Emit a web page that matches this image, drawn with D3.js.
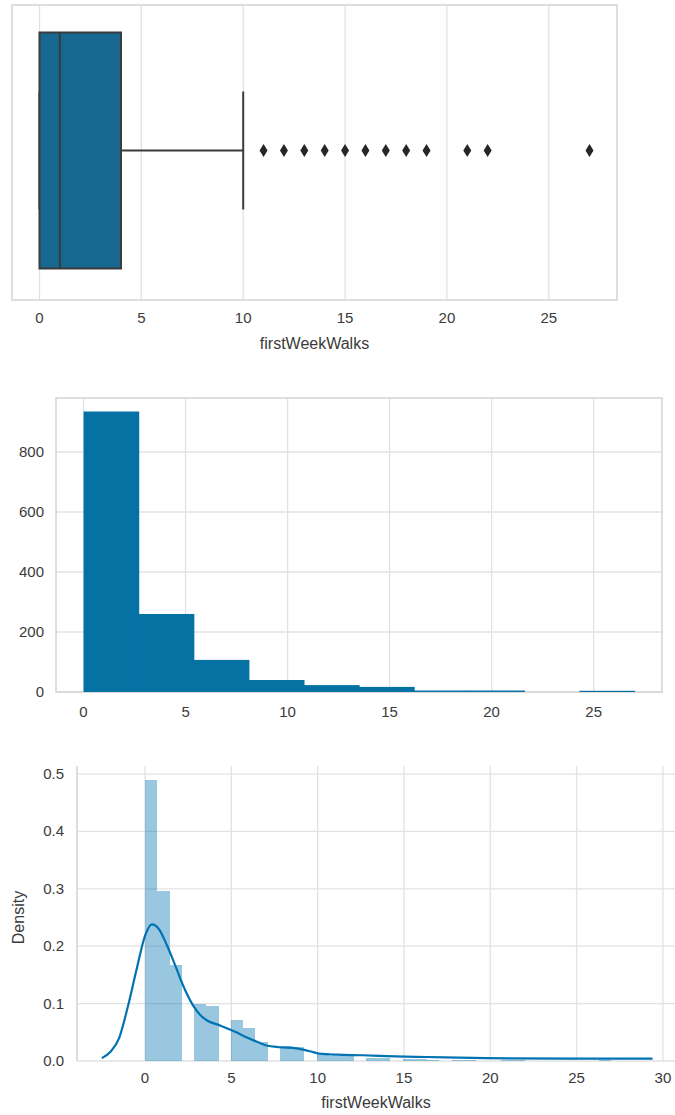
<!DOCTYPE html>
<html>
<head>
<meta charset="utf-8">
<script src="https://cdn.jsdelivr.net/npm/d3@7"></script>
<style>
  body { margin: 0; background: #fff; }
  text { font-family: "Liberation Sans", Arial, sans-serif; fill: #3a3a3a; }
</style>
</head>
<body>
<div id="chart-area"></div>
<script>
// firstWeekWalks, three views

// boxplot
const boxQuartiles = [0, 1, 4];
const boxWhiskers = [0, 10];
const outliers = [11, 12, 13, 14, 15, 16, 17, 18, 19, 21, 22, 27];
const xTicks = [0, 5, 10, 15, 20, 25];

// histogram (10 bins over 0..27)
const histRange = [0, 27];
const histCounts = [935, 260, 107, 40, 23, 17, 5, 5, 0, 4];
const histYTicks = [0, 200, 400, 600, 800];

// distplot (38 bins over 0..27)
const densityBins = [0.49, 0.297, 0.168, 0, 0.100, 0.095, 0, 0.072, 0.057, 0.033,
    0, 0.027, 0.025, 0, 0.014, 0.009, 0.008, 0, 0.005, 0.005,
    0, 0.004, 0.003, 0.002, 0, 0.002, 0.002, 0, 0, 0.001,
    0.001, 0, 0, 0, 0, 0, 0, 0.001];
const kdeX = [-2.5, -2.0, -1.5, -1.0, -0.5, 0.0, 0.39, 0.8, 1.25,
    1.73, 2.2, 2.8, 3.2, 3.57, 4.34, 4.91, 5.3, 5.68, 6.45, 7.03, 7.8, 8.77, 9.54, 10.1, 11.1,
    12.6, 14.5, 16.3, 19.75, 24.8, 29.4];
const kdeY = [0.005, 0.016, 0.04, 0.094, 0.158, 0.218, 0.238, 0.23, 0.203,
    0.168, 0.132, 0.096, 0.08, 0.071, 0.062, 0.055, 0.05, 0.044, 0.034, 0.027, 0.024, 0.022, 0.017, 0.013, 0.011,
    0.010, 0.008, 0.007, 0.005, 0.004, 0.004];
const densTicksX = [0, 5, 10, 15, 20, 25, 30];
const densTicksY = [0, 0.1, 0.2, 0.3, 0.4, 0.5];

const gridColor = "#e2e2e2";
const frameColor = "#d6d6d6";
const blue = "#0173b2";

let svg = d3.select("#chart-area").append("svg")
    .attr("width", 675)
    .attr("height", 1115);

// ---------- boxplot ----------
const bx = d3.scaleLinear().domain([-1.35, 28.35]).range([12, 617]);
const boxTop = 5, boxBottom = 300, boxMid = 150.5;

let g1 = svg.append("g");
g1.selectAll(".vgrid").data(xTicks).enter().append("line")
    .attr("x1", d => bx(d)).attr("x2", d => bx(d))
    .attr("y1", boxTop).attr("y2", boxBottom)
    .attr("stroke", gridColor).attr("stroke-width", 1.3);
g1.append("rect")
    .attr("x", bx.range()[0]).attr("y", boxTop)
    .attr("width", bx.range()[1] - bx.range()[0]).attr("height", boxBottom - boxTop)
    .attr("fill", "none").attr("stroke", frameColor).attr("stroke-width", 1.6);
g1.selectAll(".xt").data(xTicks).enter().append("text")
    .attr("x", d => bx(d)).attr("y", 323)
    .attr("text-anchor", "middle").attr("font-size", 15)
    .text(d => d);
g1.append("text")
    .attr("x", (bx.range()[0] + bx.range()[1]) / 2).attr("y", 349)
    .attr("text-anchor", "middle").attr("font-size", 16)
    .text("firstWeekWalks");

const boxH = (boxBottom - boxTop) * 0.8;
const edge = "#3b3b3b";
// whiskers
g1.append("line")
    .attr("x1", bx(boxQuartiles[2])).attr("x2", bx(boxWhiskers[1]))
    .attr("y1", boxMid).attr("y2", boxMid)
    .attr("stroke", edge).attr("stroke-width", 2);
g1.append("line")
    .attr("x1", bx(boxWhiskers[0])).attr("x2", bx(boxQuartiles[0]))
    .attr("y1", boxMid).attr("y2", boxMid)
    .attr("stroke", edge).attr("stroke-width", 2);
g1.selectAll(".cap").data(boxWhiskers).enter().append("line")
    .attr("x1", d => bx(d)).attr("x2", d => bx(d))
    .attr("y1", boxMid - boxH / 4).attr("y2", boxMid + boxH / 4)
    .attr("stroke", edge).attr("stroke-width", 2);
g1.append("rect")
    .attr("x", bx(boxQuartiles[0])).attr("y", boxMid - boxH / 2)
    .attr("width", bx(boxQuartiles[2]) - bx(boxQuartiles[0])).attr("height", boxH)
    .attr("fill", "#176890").attr("stroke", edge).attr("stroke-width", 2);
g1.append("line")
    .attr("x1", bx(boxQuartiles[1])).attr("x2", bx(boxQuartiles[1]))
    .attr("y1", boxMid - boxH / 2).attr("y2", boxMid + boxH / 2)
    .attr("stroke", edge).attr("stroke-width", 2);
g1.selectAll(".flier").data(outliers).enter().append("path")
    .attr("d", "M0,-6.5L4,0L0,6.5L-4,0Z")
    .attr("transform", d => "translate(" + bx(d) + "," + boxMid + ")")
    .attr("fill", "#262626");

// ---------- histogram ----------
const hx = d3.scaleLinear().domain([-1.35, 28.35]).range([56, 662]);
const hy = d3.scaleLinear().domain([0, 980]).range([692, 398]);
const histW = (histRange[1] - histRange[0]) / histCounts.length;

let g2 = svg.append("g");
g2.selectAll(".vgrid").data(xTicks).enter().append("line")
    .attr("x1", d => hx(d)).attr("x2", d => hx(d))
    .attr("y1", hy.range()[1]).attr("y2", hy.range()[0])
    .attr("stroke", gridColor).attr("stroke-width", 1.3);
g2.selectAll(".hgrid").data(histYTicks).enter().append("line")
    .attr("x1", hx.range()[0]).attr("x2", hx.range()[1])
    .attr("y1", d => hy(d)).attr("y2", d => hy(d))
    .attr("stroke", gridColor).attr("stroke-width", 1.3);
g2.append("rect")
    .attr("x", hx.range()[0]).attr("y", hy.range()[1])
    .attr("width", hx.range()[1] - hx.range()[0]).attr("height", hy.range()[0] - hy.range()[1])
    .attr("fill", "none").attr("stroke", frameColor).attr("stroke-width", 1.6);
g2.selectAll(".bar").data(histCounts).enter().append("rect")
    .attr("x", (d, i) => hx(histRange[0] + i * histW))
    .attr("width", hx(histW) - hx(0) + 0.6)
    .attr("y", d => hy(d))
    .attr("height", d => hy(0) - hy(d))
    .attr("fill", "#0672a4");
g2.selectAll(".xt").data(xTicks).enter().append("text")
    .attr("x", d => hx(d)).attr("y", 717)
    .attr("text-anchor", "middle").attr("font-size", 15)
    .text(d => d);
g2.selectAll(".yt").data(histYTicks).enter().append("text")
    .attr("x", 44).attr("y", d => hy(d) + 5)
    .attr("text-anchor", "end").attr("font-size", 15)
    .text(d => d);

// ---------- distplot ----------
const dx = d3.scaleLinear().domain([-3.94, 30.7]).range([77, 675]);
const dy = d3.scaleLinear().domain([0, 0.514]).range([1061, 766]);
const dW = 27 / densityBins.length;

let g3 = svg.append("g");
g3.selectAll(".vgrid").data(densTicksX).enter().append("line")
    .attr("x1", d => dx(d)).attr("x2", d => dx(d))
    .attr("y1", dy.range()[1]).attr("y2", dy.range()[0])
    .attr("stroke", gridColor).attr("stroke-width", 1.3);
g3.selectAll(".hgrid").data(densTicksY).enter().append("line")
    .attr("x1", dx.range()[0]).attr("x2", dx.range()[1])
    .attr("y1", d => dy(d)).attr("y2", d => dy(d))
    .attr("stroke", gridColor).attr("stroke-width", 1.3);
g3.append("line")
    .attr("x1", dx.range()[0]).attr("x2", dx.range()[0])
    .attr("y1", dy.range()[1]).attr("y2", dy.range()[0])
    .attr("stroke", frameColor).attr("stroke-width", 1.6);
g3.selectAll(".bar").data(densityBins).enter().append("rect")
    .attr("x", (d, i) => dx(i * dW))
    .attr("width", dx(dW) - dx(0))
    .attr("y", d => dy(d))
    .attr("height", d => dy(0) - dy(d))
    .attr("fill", blue).attr("fill-opacity", 0.4)
    .attr("shape-rendering", "crispEdges");
const kdeLine = d3.line()
    .x((d, i) => dx(kdeX[i]))
    .y(d => dy(d))
    .curve(d3.curveMonotoneX);
g3.append("path")
    .attr("d", kdeLine(kdeY))
    .attr("fill", "none").attr("stroke", blue).attr("stroke-width", 2.2);
g3.selectAll(".xt").data(densTicksX).enter().append("text")
    .attr("x", d => dx(d)).attr("y", 1083)
    .attr("text-anchor", "middle").attr("font-size", 15)
    .text(d => d);
g3.selectAll(".yt").data(densTicksY).enter().append("text")
    .attr("x", 64).attr("y", d => dy(d) + 5)
    .attr("text-anchor", "end").attr("font-size", 15)
    .text(d => d.toFixed(1));
g3.append("text")
    .attr("x", (dx.range()[0] + dx.range()[1]) / 2).attr("y", 1108)
    .attr("text-anchor", "middle").attr("font-size", 16)
    .text("firstWeekWalks");
g3.append("text")
    .attr("transform", "translate(24," + dy(0.25) + ") rotate(-90)")
    .attr("text-anchor", "middle").attr("font-size", 16)
    .text("Density");
</script>
</body>
</html>
